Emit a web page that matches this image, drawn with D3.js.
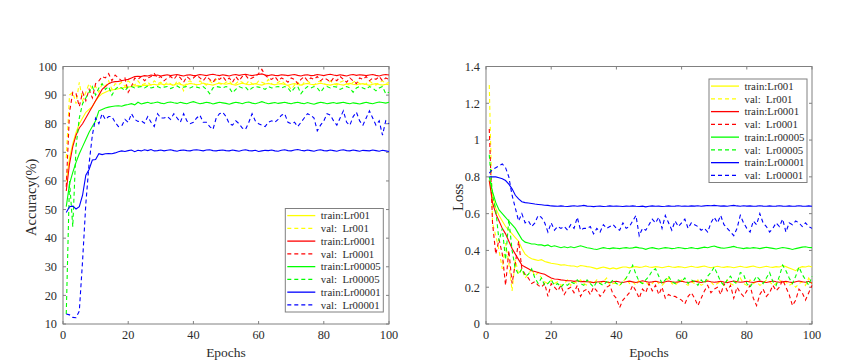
<!DOCTYPE html>
<html>
<head>
<meta charset="utf-8">
<script src="https://cdn.jsdelivr.net/npm/d3@7"></script>
<style>
  body { margin: 0; background: #fff; }
  svg { display: block; }
  text { font-family: "Liberation Serif", "Times New Roman", serif; fill: #2b2b2b; }
</style>
</head>
<body>
<svg width="860" height="362"></svg>
<script>
// epochs 1..100
const epochs = d3.range(1, 101);

const seriesNames = ["train:Lr001", "val:  Lr001", "train:Lr0001", "val:  Lr0001",
    "train:Lr00005", "val:  Lr00005", "train:Lr00001", "val:  Lr00001"];
const seriesColors = ["#ffff00", "#ffff00", "#ff0000", "#ff0000", "#00ff00", "#00ff00", "#0000ff", "#0000ff"];
const seriesDashed = [false, true, false, true, false, true, false, true];

// accuracy (%)
const accTrain001 = [60,68,73,77,80,82,84,85,86,88,89.5,90.5,91,91.5,91.8,92,92.2,92.5,92.7,92.8,
    93,93.2,93.3,93.2,93.5,93.4,93.6,93.8,93.5,94,93.6,93.9,93.7,93.5,94,93.8,93.4,93.7,94.1,93.9,
    93.6,93.8,94.2,93.9,93.7,93.5,93.9,94.2,94,93.8,94.1,93.7,93.5,93.9,94.2,93.9,93.6,93.8,94,93.7,
    93.5,93.9,94.1,93.8,93.6,93.9,94,93.7,93.4,93.8,94,93.7,93.5,93.9,94.1,93.8,93.6,93.9,94.2,93.9,
    93.7,93.5,93.8,94,93.7,93.5,93.9,94.1,93.8,93.6,93.9,94,93.7,93.4,93.8,94,93.7,93.5,93.8,93.6];
const accVal001 = [68,90,91,87,94.5,88,91,94,92,93,91,94,93,95,92,94,93.5,94.5,93,95,
    94,93.5,95,93.5,94,94.5,93.5,95,94,94.5,93.5,94.5,94,93,95,94,91.5,94.5,95,94,
    93.5,95,94,93.5,95,94,95.5,94,93.5,94.5,95,93.5,94,95,94.5,93.5,95,94,93.5,95,
    94.5,94,95.5,94,93.5,94.5,95,94,93.5,92,93.5,94.5,93,94.5,95,94,93.5,94.5,95,94,
    93.5,95,94,93.5,94.5,95,94,93.5,94.5,95,94,93.5,94,95,94,93.5,94.5,95,94,94.5];
const accTrain0001 = [56.5,66,72,76,78.5,80,82,84,86,88,90,92,93,94,94.5,94.7,94.8,95,95.3,95.5,
    96,96.5,96.6,96.5,96.8,96.7,97,96.8,97,96.7,96.9,97.1,96.8,97,97.2,96.9,96.7,97,97.1,96.8,
    96.9,97.2,97,96.8,97.1,97.3,97,96.8,97.1,96.9,96.7,97,97.2,96.9,97.1,97.3,97,96.8,97,97.2,
    97.4,97,96.8,97.1,96.9,96.8,97.1,97,96.8,97,97.2,96.9,96.7,97,97.1,96.8,96.9,97.2,97,96.8,
    97.1,97.3,97,96.8,97.1,96.9,96.7,97,97.2,96.9,97.1,97,96.8,97,97.2,96.9,96.7,97,97.2,97];
const accVal0001 = [58,84,91,90.5,86,91,88,92,89,94,95,96.5,96,97.5,95,97,96,95,96,91,
    93,96,95.5,96.5,95,96,96.5,97.5,96,96.5,95,96,96.5,95.5,97,96,94.5,96.5,95.5,96,
    97,96,95,96.5,95.5,94.5,96,95.5,96.5,95,96,94.5,96.5,95,96.5,97,95.5,96,96.5,97.5,
    99,97,96,95.5,96.5,95,96,95.5,94.5,96,95.5,94,95.5,96.5,95,96,95.5,96.5,95,96,
    95.5,94.5,96,95,96.5,95.5,94.5,96,95,94,96,95.5,96.5,95,96,95.5,96.5,95,96,95.5];
const accTrain00005 = [51,59,63,66.5,69.5,72,74.5,77,79,81,84.5,85,85.5,85.8,86,86.2,86.3,86.1,86.5,86.7,
    87,86.6,87.5,86.9,87.2,87.5,87.1,87.3,87.6,87.2,87,87.4,87.6,87.3,87.1,87.5,87.2,87,87.4,87.7,
    87.3,87,87.2,87.5,87.3,86.9,87.2,87.5,87.3,87.1,86.8,87.2,87.5,87.3,87,87.4,87.6,87.2,87,87.3,
    87.7,87.3,87,87.2,87.4,87.1,87.3,87.5,87.2,87,87.3,87.5,87.2,87,87.4,87.1,86.8,87.2,87.5,87.3,
    87,87.2,87.4,87.1,87.3,87.5,87.2,87,87.3,87.1,86.9,87.2,87.5,87.2,87,87.3,87.6,87.4,87.2,87.5];
const accVal00005 = [13.5,60,44,72,82,87,89,91,93,90,92.5,94,92,93,90,92,93,92.5,91.5,93,
    93,92.5,92.8,93,92.5,93.2,92.5,92.8,93,92.5,92.8,93,92.3,92.8,93.2,92.5,92.8,93,92.5,93,
    92.8,92.5,93,92,90.5,92.5,93,92.8,92.5,93,92.5,90.8,92,93,92.5,92.8,91.5,92.5,93,92.8,
    92.5,92,93,92.5,92.8,93,92.5,93,92.5,91,92.5,93,90.5,92,93,92.5,93,92.5,91,92.5,
    93,92.5,93,92.8,92,92.5,93,92.5,91,92.5,93,92.5,92,93,92.5,91.5,92.5,93,90.5,91];
const accTrain00001 = [49,51,51.2,50.2,51,55,62,64,67.3,67.5,69.5,69.2,69.5,69.6,69.5,69.8,70.2,70.5,70.3,70.6,
    70.8,70.2,70.7,70.5,70.9,70.6,71,70.5,70.6,70.8,70.5,70.7,70.9,70.6,70.4,70.7,70.8,70.6,70.5,70.8,
    70.9,70.7,70.5,70.8,70.9,70.6,70.5,70.7,70.8,70.6,70.5,70.8,70.6,70.4,70.7,70.9,70.6,70.5,70.7,70.3,
    70.5,70.7,70.6,70.8,70.5,70.4,70.7,70.9,70.6,70.5,70.8,71,70.7,70.5,70.8,70.6,70.4,70.7,70.9,70.6,
    70.5,70.8,70.6,70.4,70.7,70.9,70.6,70.5,70.8,70.6,70.4,70.7,70.6,70.5,70.8,70.6,70.4,70.7,70.5,70.3];
const accVal00001 = [13.5,13.2,12.3,12.2,14.5,32,52,66,76,82,80,83.5,81.5,82.5,82.5,80.5,79,79.2,81.5,80.5,
    83.5,81.5,80.8,81,80.2,82.5,80.5,79,83.5,82,82,82.5,81.5,83.5,82,80.5,83.5,81,80,80.5,
    82,83,80.5,80.5,79,78,82,83.5,84,82.5,80,79.5,81,80,78.5,78,80.5,83.5,81,80,
    79.5,79,80.5,81,80.5,81.5,83,83.5,80.5,80,80.5,79,80.5,82,83.5,83,82,77.5,79.5,81,
    83.5,83,81,79.5,82,84.5,80.5,79.5,82.5,84,81,79.5,82,84.5,82,79.5,81,76,81,80];

// loss
const lossTrain001 = [0.78,0.70,0.63,0.59,0.56,0.53,0.51,0.49,0.47,0.45,0.41,0.38,0.365,0.355,0.35,0.345,0.35,0.34,0.335,0.33,
    0.328,0.325,0.32,0.322,0.318,0.316,0.315,0.31,0.318,0.315,0.312,0.31,0.305,0.30,0.305,0.31,0.305,0.30,0.305,0.30,
    0.305,0.31,0.31,0.305,0.31,0.312,0.308,0.31,0.315,0.31,0.308,0.312,0.31,0.306,0.31,0.314,0.31,0.308,0.312,0.31,
    0.306,0.31,0.314,0.31,0.308,0.312,0.315,0.31,0.306,0.31,0.314,0.31,0.308,0.312,0.31,0.306,0.31,0.314,0.31,0.308,
    0.312,0.315,0.31,0.306,0.31,0.314,0.31,0.308,0.312,0.31,0.318,0.312,0.305,0.298,0.29,0.305,0.312,0.31,0.315,0.31];
const lossVal001 = [1.30,0.55,0.48,0.40,0.30,0.44,0.33,0.18,0.35,0.27,0.30,0.25,0.27,0.30,0.26,0.28,0.25,0.23,0.22,0.24,
    0.22,0.23,0.21,0.22,0.24,0.21,0.23,0.22,0.24,0.22,0.21,0.23,0.22,0.24,0.22,0.23,0.25,0.21,0.22,0.22,
    0.21,0.23,0.25,0.22,0.23,0.21,0.24,0.22,0.23,0.21,0.22,0.24,0.22,0.21,0.23,0.25,0.22,0.21,0.23,0.24,
    0.22,0.21,0.23,0.22,0.24,0.21,0.22,0.24,0.23,0.21,0.22,0.23,0.21,0.24,0.22,0.21,0.23,0.25,0.22,0.21,
    0.24,0.22,0.23,0.21,0.22,0.24,0.23,0.21,0.22,0.24,0.22,0.23,0.21,0.22,0.20,0.22,0.23,0.21,0.25,0.22];
const lossTrain0001 = [0.78,0.66,0.60,0.56,0.52,0.49,0.45,0.41,0.38,0.35,0.32,0.31,0.30,0.29,0.285,0.28,0.275,0.27,0.26,0.25,
    0.245,0.243,0.24,0.238,0.235,0.235,0.232,0.235,0.23,0.232,0.23,0.228,0.225,0.228,0.23,0.232,0.228,0.226,0.23,0.232,
    0.228,0.226,0.23,0.233,0.229,0.226,0.23,0.235,0.231,0.227,0.229,0.232,0.228,0.225,0.23,0.234,0.23,0.227,0.229,0.232,
    0.228,0.226,0.23,0.233,0.229,0.226,0.23,0.234,0.23,0.227,0.229,0.232,0.228,0.225,0.23,0.234,0.23,0.227,0.229,0.232,
    0.228,0.226,0.23,0.233,0.229,0.226,0.23,0.234,0.23,0.227,0.229,0.232,0.228,0.225,0.23,0.234,0.23,0.227,0.232,0.222];
const lossVal0001 = [1.06,0.55,0.38,0.46,0.38,0.21,0.40,0.22,0.33,0.45,0.30,0.27,0.25,0.22,0.23,0.21,0.20,0.22,0.15,0.22,
    0.20,0.18,0.21,0.16,0.19,0.20,0.17,0.21,0.15,0.18,0.19,0.16,0.20,0.18,0.15,0.17,0.20,0.21,0.16,0.14,
    0.09,0.13,0.15,0.17,0.21,0.18,0.14,0.19,0.17,0.22,0.18,0.21,0.16,0.20,0.14,0.16,0.15,0.15,0.14,0.13,
    0.11,0.15,0.17,0.14,0.10,0.14,0.18,0.21,0.17,0.19,0.20,0.16,0.22,0.18,0.21,0.14,0.20,0.17,0.15,0.18,
    0.21,0.14,0.10,0.16,0.19,0.15,0.17,0.21,0.18,0.20,0.24,0.20,0.16,0.10,0.13,0.19,0.17,0.13,0.17,0.21];
const lossTrain00005 = [0.80,0.72,0.66,0.62,0.60,0.58,0.56,0.54,0.52,0.49,0.46,0.445,0.44,0.435,0.435,0.43,0.43,0.425,0.43,0.42,
    0.425,0.42,0.415,0.42,0.415,0.42,0.415,0.42,0.425,0.42,0.415,0.412,0.408,0.405,0.41,0.415,0.412,0.41,0.414,0.412,
    0.41,0.413,0.415,0.412,0.414,0.418,0.414,0.412,0.406,0.412,0.415,0.411,0.408,0.412,0.415,0.413,0.41,0.412,0.416,0.413,
    0.41,0.412,0.415,0.412,0.41,0.414,0.418,0.415,0.42,0.424,0.418,0.414,0.412,0.415,0.418,0.422,0.416,0.413,0.41,0.414,
    0.412,0.415,0.413,0.41,0.414,0.417,0.414,0.411,0.408,0.412,0.416,0.413,0.41,0.405,0.41,0.414,0.418,0.42,0.416,0.415];
const lossVal00005 = [0.92,0.70,0.62,0.45,0.52,0.35,0.57,0.40,0.30,0.27,0.30,0.26,0.27,0.30,0.25,0.22,0.25,0.21,0.22,0.24,
    0.21,0.22,0.20,0.22,0.21,0.23,0.22,0.24,0.22,0.21,0.24,0.22,0.20,0.23,0.22,0.21,0.23,0.22,0.24,0.22,
    0.21,0.23,0.25,0.28,0.32,0.27,0.23,0.22,0.24,0.26,0.29,0.30,0.26,0.22,0.24,0.26,0.23,0.22,0.24,0.23,
    0.25,0.22,0.24,0.23,0.21,0.24,0.22,0.26,0.28,0.31,0.27,0.23,0.21,0.24,0.26,0.23,0.22,0.28,0.27,0.22,
    0.20,0.23,0.26,0.24,0.22,0.25,0.28,0.23,0.21,0.26,0.32,0.29,0.25,0.22,0.26,0.31,0.27,0.24,0.21,0.26];
const lossTrain00001 = [0.80,0.80,0.80,0.795,0.79,0.78,0.76,0.735,0.70,0.68,0.665,0.66,0.658,0.655,0.652,0.65,0.648,0.646,0.645,0.642,
    0.641,0.64,0.642,0.64,0.639,0.641,0.643,0.64,0.642,0.645,0.641,0.64,0.638,0.64,0.641,0.639,0.64,0.642,0.64,0.641,
    0.64,0.639,0.641,0.64,0.642,0.64,0.639,0.641,0.637,0.64,0.642,0.64,0.641,0.639,0.64,0.642,0.64,0.641,0.643,0.64,
    0.641,0.64,0.642,0.641,0.643,0.64,0.642,0.644,0.643,0.645,0.643,0.641,0.642,0.64,0.643,0.645,0.642,0.64,0.643,0.641,
    0.642,0.64,0.641,0.643,0.641,0.64,0.642,0.64,0.641,0.643,0.641,0.64,0.642,0.64,0.641,0.643,0.641,0.64,0.642,0.64];
const lossVal00001 = [0.82,0.84,0.85,0.86,0.87,0.85,0.80,0.70,0.63,0.56,0.60,0.55,0.56,0.53,0.55,0.59,0.58,0.55,0.50,0.55,
    0.51,0.53,0.52,0.53,0.51,0.54,0.52,0.58,0.51,0.52,0.52,0.53,0.49,0.52,0.50,0.54,0.52,0.53,0.54,0.52,
    0.51,0.55,0.52,0.53,0.56,0.59,0.48,0.52,0.51,0.54,0.57,0.55,0.58,0.52,0.59,0.55,0.51,0.56,0.53,0.55,
    0.57,0.52,0.55,0.54,0.53,0.51,0.52,0.50,0.55,0.58,0.55,0.59,0.54,0.52,0.50,0.48,0.52,0.59,0.55,0.52,
    0.50,0.56,0.54,0.60,0.55,0.53,0.50,0.52,0.55,0.53,0.57,0.50,0.55,0.54,0.56,0.55,0.53,0.55,0.53,0.52];

const accTicks = [10, 20, 30, 40, 50, 60, 70, 80, 90, 100];
const lossTicks = [0, 0.2, 0.4, 0.6, 0.8, 1, 1.2, 1.4];
const epochTicks = [0, 20, 40, 60, 80, 100];

const svg = d3.select("svg");
const axisColor = "#808080";

function drawPanel(p) {
    const x = d3.scaleLinear().domain([0, 100]).range([p.left, p.right]);
    const y = d3.scaleLinear().domain(p.yDomain).range([p.bottom, p.top]);
    const g = svg.append("g");

    // box
    g.append("rect")
        .attr("x", p.left).attr("y", p.top)
        .attr("width", p.right - p.left).attr("height", p.bottom - p.top)
        .attr("fill", "none").attr("stroke", axisColor).attr("stroke-width", 1);

    // ticks inward, on all four sides
    const tl = 3;
    epochTicks.forEach(t => {
        g.append("line").attr("x1", x(t)).attr("x2", x(t)).attr("y1", p.bottom).attr("y2", p.bottom - tl)
            .attr("stroke", axisColor);
        g.append("line").attr("x1", x(t)).attr("x2", x(t)).attr("y1", p.top).attr("y2", p.top + tl)
            .attr("stroke", axisColor);
        g.append("text").attr("x", x(t)).attr("y", p.bottom + 15)
            .attr("text-anchor", "middle").style("font-size", "12.3px").text(t);
    });
    p.yTicks.forEach(t => {
        g.append("line").attr("x1", p.left).attr("x2", p.left + tl).attr("y1", y(t)).attr("y2", y(t))
            .attr("stroke", axisColor);
        g.append("line").attr("x1", p.right).attr("x2", p.right - tl).attr("y1", y(t)).attr("y2", y(t))
            .attr("stroke", axisColor);
        g.append("text").attr("x", p.left - 6).attr("y", y(t)).attr("dy", "0.35em")
            .attr("text-anchor", "end").style("font-size", "12.3px").text(t);
    });

    // axis labels
    g.append("text").attr("x", (p.left + p.right) / 2).attr("y", 356.5)
        .attr("text-anchor", "middle").style("font-size", "13.5px").text("Epochs");
    g.append("text")
        .attr("transform", `translate(${p.yLabelX}, ${(p.top + p.bottom) / 2 + 2}) rotate(-90)`)
        .attr("text-anchor", "middle").style("font-size", "14.5px").text(p.yLabel);

    // lines
    const line = d3.line().x((d, i) => x(epochs[i])).y(d => y(d));
    p.series.forEach((s, i) => {
        g.append("path").datum(s)
            .attr("d", line)
            .attr("fill", "none")
            .attr("stroke", seriesColors[i])
            .attr("stroke-width", 1.1)
            .attr("stroke-dasharray", seriesDashed[i] ? "4,3" : null);
    });

    // legend
    const lw = 98, lh = 103.5, step = 12.76;
    const lg = g.append("g").attr("transform", `translate(${p.legendX}, ${p.legendY})`);
    lg.append("rect").attr("width", lw).attr("height", lh)
        .attr("fill", "#fff").attr("stroke", axisColor);
    seriesNames.forEach((name, i) => {
        const cy = lh / 2 + step * (i - 3.5);
        lg.append("line").attr("x1", 2).attr("x2", 30).attr("y1", cy).attr("y2", cy)
            .attr("stroke", seriesColors[i]).attr("stroke-width", 1.3)
            .attr("stroke-dasharray", seriesDashed[i] ? "4,3" : null);
        lg.append("text").attr("x", 35.5).attr("y", cy).attr("dy", "0.35em")
            .attr("xml:space", "preserve").style("white-space", "pre")
            .style("font-size", "10.8px").text(name);
    });
}

drawPanel({
    left: 63, right: 389, top: 66.5, bottom: 324,
    yDomain: [10, 100], yTicks: accTicks, yLabel: "Accuracy(%)", yLabelX: 35.5,
    series: [accTrain001, accVal001, accTrain0001, accVal0001, accTrain00005, accVal00005, accTrain00001, accVal00001],
    legendX: 285.3, legendY: 208.5
});

drawPanel({
    left: 486, right: 812, top: 66.5, bottom: 324,
    yDomain: [0, 1.4], yTicks: lossTicks, yLabel: "Loss", yLabelX: 462.5,
    series: [lossTrain001, lossVal001, lossTrain0001, lossVal0001, lossTrain00005, lossVal00005, lossTrain00001, lossVal00001],
    legendX: 709, legendY: 79
});
</script>
</body>
</html>
